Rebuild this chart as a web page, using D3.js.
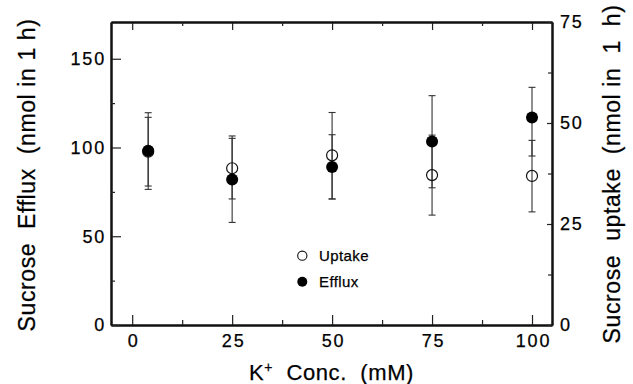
<!DOCTYPE html>
<html>
<head>
<meta charset="utf-8">
<script src="https://cdn.jsdelivr.net/npm/d3@7"></script>
<style>
  body { margin: 0; background: #fff; }
  text { font-family: "Liberation Sans", Arial, sans-serif; fill: #000; stroke: #000; stroke-width: 0.25; }
</style>
</head>
<body>
<svg width="633" height="384"></svg>
<script>
// K+ concentration (mM)
let conc = [4, 25, 50, 75, 100];

// efflux, left axis (nmol in 1 h)
let efflux = [98.2, 82.0, 89.0, 103.4, 116.9];
let effluxLo = [76.4, 57.8, 71.0, 77.3, 95.2];
let effluxHi = [119.6, 106.5, 107.2, 129.2, 133.9];

// uptake, right axis (nmol in 1 h)
let uptake = [42.9, 38.8, 42.0, 37.1, 36.9];
let uptakeLo = [34.4, 31.2, 31.2, 27.2, 28.0];
let uptakeHi = [51.4, 46.2, 52.6, 47.0, 45.7];

let xTicks = [0, 25, 50, 75, 100];
let xMinor = [12.5, 37.5, 62.5, 87.5];
let leftTicks = [0, 50, 100, 150];
let leftMinor = [25, 75, 125];
let rightTicks = [0, 25, 50, 75];
let rightMinor = [12.5, 37.5, 62.5];

let svg = d3.select('svg');
let pL = 111, pR = 552, pT = 22, pB = 325;

let x = d3.scaleLinear().domain([-5.3, 105]).range([pL, pR]);
let yL = d3.scaleLinear().domain([0, 170.7]).range([pB, pT]);
let yR = d3.scaleLinear().domain([0, 75]).range([pB, pT]);

function styleAxis(g) {
  g.selectAll('.domain').attr('stroke', '#111').attr('stroke-width', 2);
  g.selectAll('.tick line').attr('stroke', '#222').attr('stroke-width', 1.2);
  g.selectAll('.tick text')
    .attr('font-family', '"Liberation Sans", Arial, sans-serif')
    .attr('font-size', 18)
    .attr('letter-spacing', 1.8)
    .attr('fill', '#000');
}

// bottom
svg.append('g').attr('transform', `translate(0,${pB})`)
  .call(d3.axisBottom(x).tickValues(xTicks).tickSizeInner(-10).tickSizeOuter(0).tickPadding(9))
  .call(styleAxis)
  .call(g => g.selectAll('.tick text').attr('dx', 1));
svg.append('g').attr('transform', `translate(0,${pB})`)
  .call(d3.axisBottom(x).tickValues(xMinor).tickSizeInner(-5).tickSizeOuter(0).tickFormat(''))
  .call(styleAxis);

// top
svg.append('g').attr('transform', `translate(0,${pT})`)
  .call(d3.axisTop(x).tickValues(xTicks).tickSizeInner(-8).tickSizeOuter(0).tickFormat(''))
  .call(styleAxis);
svg.append('g').attr('transform', `translate(0,${pT})`)
  .call(d3.axisTop(x).tickValues(xMinor).tickSizeInner(-4).tickSizeOuter(0).tickFormat(''))
  .call(styleAxis);

// left
svg.append('g').attr('transform', `translate(${pL},0)`)
  .call(d3.axisLeft(yL).tickValues(leftTicks).tickSizeInner(-10).tickSizeOuter(0).tickPadding(7))
  .call(styleAxis)
  .call(g => g.selectAll('.tick text').attr('dx', 2));
svg.append('g').attr('transform', `translate(${pL},0)`)
  .call(d3.axisLeft(yL).tickValues(leftMinor).tickSizeInner(-4).tickSizeOuter(0).tickFormat(''))
  .call(styleAxis);

// right
svg.append('g').attr('transform', `translate(${pR},0)`)
  .call(d3.axisRight(yR).tickValues(rightTicks).tickSizeInner(-5).tickSizeOuter(0).tickPadding(8))
  .call(styleAxis);
svg.append('g').attr('transform', `translate(${pR},0)`)
  .call(d3.axisRight(yR).tickValues(rightMinor).tickSizeInner(-4).tickSizeOuter(0).tickFormat(''))
  .call(styleAxis);

// error bars
let cap = 3.5;
function errorBars(cls, lo, hi, y) {
  let g = svg.append('g').attr('class', cls).attr('stroke', '#333').attr('stroke-width', 1.1);
  conc.forEach((c, i) => {
    let cx = x(c);
    g.append('line').attr('x1', cx).attr('x2', cx).attr('y1', y(hi[i])).attr('y2', y(lo[i]));
    g.append('line').attr('x1', cx - cap).attr('x2', cx + cap).attr('y1', y(hi[i])).attr('y2', y(hi[i]));
    g.append('line').attr('x1', cx - cap).attr('x2', cx + cap).attr('y1', y(lo[i])).attr('y2', y(lo[i]));
  });
}
errorBars('err-up', uptakeLo, uptakeHi, yR);
errorBars('err-ef', effluxLo, effluxHi, yL);

// points
svg.append('g').selectAll('circle').data(uptake).join('circle')
  .attr('cx', (d, i) => x(conc[i])).attr('cy', d => yR(d)).attr('r', 5.5)
  .attr('fill', 'none').attr('stroke', '#111').attr('stroke-width', 1.2);
svg.append('g').selectAll('circle').data(efflux).join('circle')
  .attr('cx', (d, i) => x(conc[i])).attr('cy', d => yL(d)).attr('r', 6)
  .attr('fill', '#000');

// legend
let leg = svg.append('g');
leg.append('circle').attr('cx', 302.3).attr('cy', 255.7).attr('r', 4.6)
  .attr('fill', 'none').attr('stroke', '#111').attr('stroke-width', 1.1);
leg.append('circle').attr('cx', 302.3).attr('cy', 281.7).attr('r', 5).attr('fill', '#000');
leg.append('text').attr('x', 319).attr('y', 260.5).attr('font-size', 15).attr('letter-spacing', 0.4).text('Uptake');
leg.append('text').attr('x', 319).attr('y', 286.5).attr('font-size', 15).attr('letter-spacing', 0.4).text('Efflux');

// axis titles
svg.append('text')
  .attr('transform', 'translate(35,175) rotate(-90)')
  .attr('text-anchor', 'middle').attr('font-size', 23).attr('letter-spacing', 0.6)
  .style('white-space', 'pre')
  .text('Sucrose  Efflux  (nmol in 1 h)');

svg.append('text')
  .attr('transform', 'translate(620,174) rotate(-90)')
  .attr('text-anchor', 'middle').attr('font-size', 23).attr('letter-spacing', 0.6)
  .style('white-space', 'pre')
  .text('Sucrose  uptake  (nmol in  1  h)');

let xt = svg.append('text')
  .attr('x', 331.5).attr('y', 380)
  .attr('text-anchor', 'middle').attr('font-size', 22).attr('letter-spacing', 0.6)
  .style('white-space', 'pre');
xt.append('tspan').text('K');
xt.append('tspan').attr('font-size', 14).attr('dy', -8).text('+');
xt.append('tspan').attr('dy', 8).text('  Conc.  (mM)');
</script>
</body>
</html>
